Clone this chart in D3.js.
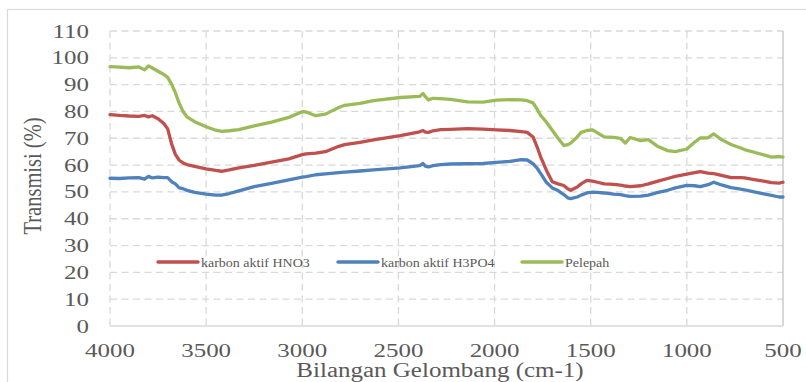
<!DOCTYPE html>
<html><head><meta charset="utf-8">
<script src="https://cdn.jsdelivr.net/npm/d3@7"></script>
<style>html,body{margin:0;padding:0;background:#fff;}svg{display:block;}
text{font-family:"Liberation Serif","Times New Roman","DejaVu Serif",serif;}</style>
</head><body>
<script>
const wavenumbers = [4000,3950,3900,3850,3820,3800,3780,3750,3720,3700,3680,3660,3640,3620,3600,3560,3500,3450,3420,3380,3330,3250,3160,3070,3000,2980,2930,2880,2810,2780,2700,2630,2490,2390,2372,2360,2344,2320,2280,2230,2140,2060,1990,1920,1860,1830,1800,1780,1760,1730,1700,1670,1640,1620,1604,1570,1550,1520,1490,1465,1430,1380,1345,1320,1295,1240,1200,1150,1100,1060,1000,960,930,890,860,820,770,720,700,650,600,560,520,500];
const hno3 = [78.8,78.5,78.3,78.2,78.5,78.0,78.4,77.3,75.5,73.5,68.0,64.0,61.8,60.8,60.2,59.5,58.6,58.0,57.7,58.2,59.0,59.9,61.1,62.3,63.9,64.2,64.5,65.0,67.0,67.6,68.5,69.4,71.0,72.4,72.9,72.3,72.2,72.8,73.2,73.3,73.6,73.4,73.1,72.9,72.5,72.2,70.5,67.0,63.0,58.0,53.8,53.0,52.4,51.2,50.6,51.8,53.0,54.3,54.0,53.6,53.0,52.8,52.5,52.2,52.0,52.3,53.0,54.0,55.0,55.8,56.6,57.2,57.6,57.0,56.8,56.2,55.3,55.3,55.2,54.6,54.0,53.5,53.3,53.6];
const h3po4 = [55.1,55.0,55.2,55.3,54.8,55.8,55.2,55.5,55.3,55.3,53.8,53.0,51.5,51.2,50.6,49.8,49.2,48.8,48.8,49.4,50.4,52.0,53.2,54.5,55.5,55.7,56.4,56.7,57.2,57.4,57.8,58.2,59.0,59.8,60.6,59.6,59.3,59.8,60.2,60.4,60.5,60.6,61.0,61.4,62.0,61.9,60.5,59.0,56.8,53.5,51.5,50.5,49.0,47.8,47.5,48.1,48.8,49.6,49.9,49.8,49.6,49.2,49.0,48.6,48.3,48.4,48.8,49.8,50.6,51.5,52.4,52.3,52.0,52.7,53.6,52.6,51.6,51.0,50.8,50.0,49.3,48.7,48.1,48.1];
const pelepah = [96.7,96.5,96.3,96.6,95.5,97.0,96.2,95.0,93.8,92.7,90.2,87.0,83.0,80.0,78.0,76.2,74.3,73.0,72.6,72.8,73.2,74.6,76.0,77.8,79.9,79.8,78.4,79.0,81.5,82.3,83.0,84.0,85.2,85.6,86.7,85.5,84.3,84.9,84.8,84.5,83.6,83.5,84.2,84.4,84.3,84.0,83.2,81.0,78.5,76.0,73.0,70.0,67.3,67.6,68.2,70.5,72.2,72.9,73.1,72.0,70.5,70.3,70.0,68.2,70.3,69.1,69.5,66.9,65.4,65.0,66.0,68.5,70.1,70.2,71.6,69.5,67.7,66.4,65.8,64.8,63.8,63.0,63.2,63.0];
const seriesNames = ["karbon aktif HNO3","karbon aktif H3PO4","Pelepah"];
const seriesColors = ["#C0504D","#4F81BD","#9BBB59"];
const xTicks = [4000,3500,3000,2500,2000,1500,1000,500];
const yTicks = [0,10,20,30,40,50,60,70,80,90,100,110];
const xTitle = "Bilangan Gelombang (cm-1)";
const yTitle = "Transmisi (%)";

const W = 806, H = 382;
const svg = d3.select("body").append("svg").attr("width", W).attr("height", H);
svg.append("rect").attr("x", 7.5).attr("y", 9.5).attr("width", W).attr("height", H)
  .attr("fill", "#fff").attr("stroke", "#d9d9d9").attr("stroke-width", 1.2);

const x = d3.scaleLinear().domain([4000, 500]).range([110, 783]);
const y = d3.scaleLinear().domain([0, 110]).range([326, 31]);
const grid = "#d9d9d9";

svg.append("g").selectAll("line").data(yTicks.filter(d => d > 0)).join("line")
  .attr("x1", x(4000)).attr("x2", x(500)).attr("y1", d => y(d)).attr("y2", d => y(d))
  .attr("stroke", grid).attr("stroke-width", 1.3).attr("stroke-dasharray", "7,4.5");
svg.append("g").selectAll("line").data(xTicks.filter(d => d !== 500)).join("line")
  .attr("x1", d => x(d)).attr("x2", d => x(d)).attr("y1", y(110)).attr("y2", y(0))
  .attr("stroke", grid).attr("stroke-width", 1.3).attr("stroke-dasharray", "7,4.5");
svg.append("line").attr("x1", x(500)).attr("x2", x(500)).attr("y1", y(110)).attr("y2", y(0))
  .attr("stroke", "#bfbfbf").attr("stroke-width", 1.2);
svg.append("line").attr("x1", x(4000)).attr("x2", x(500)).attr("y1", y(0)).attr("y2", y(0))
  .attr("stroke", "#d9d9d9").attr("stroke-width", 1.3);

svg.append("g").selectAll("text").data(yTicks).join("text")
  .attr("transform", d => `translate(89,${y(d) + 6.5}) scale(1.28,1)`)
  .attr("text-anchor", "end").attr("font-size", 19.5)
  .attr("fill", "#595959").text(d => d);
svg.append("g").selectAll("text").data(xTicks).join("text")
  .attr("transform", d => `translate(${x(d)},356.5) scale(1.28,1)`)
  .attr("text-anchor", "middle").attr("font-size", 19.5)
  .attr("fill", "#595959").text(d => d);

svg.append("text").attr("transform", `translate(440,377) scale(1.25,1)`)
  .attr("text-anchor", "middle").attr("font-size", 20)
  .attr("fill", "#595959").text(xTitle);
svg.append("text").attr("transform", `translate(41,176) scale(1.2,1) rotate(-90)`)
  .attr("text-anchor", "middle").attr("font-size", 20.5)
  .attr("fill", "#595959").text(yTitle);

const allSeries = [hno3, h3po4, pelepah];
const line = d3.line().x(d => x(d[0])).y(d => y(d[1])).curve(d3.curveLinear);
allSeries.forEach((vals, i) => {
  svg.append("path").datum(wavenumbers.map((w, j) => [w, vals[j]]))
    .attr("d", line).attr("fill", "none").attr("stroke", seriesColors[i])
    .attr("stroke-width", 3.3).attr("stroke-linejoin", "round").attr("stroke-linecap", "round");
});

const legendX = [158, 338, 522];
const lg = svg.append("g");
seriesNames.forEach((n, i) => {
  lg.append("line").attr("x1", legendX[i]).attr("x2", legendX[i] + 40)
    .attr("y1", 262).attr("y2", 262).attr("stroke", seriesColors[i]).attr("stroke-width", 3.5)
    .attr("stroke-linecap", "round");
  lg.append("text").attr("transform", `translate(${legendX[i] + 43},266.5) scale(1.12,1)`)
    .attr("font-size", 12.5).attr("fill", "#595959").text(n);
});
</script>
</body></html>
